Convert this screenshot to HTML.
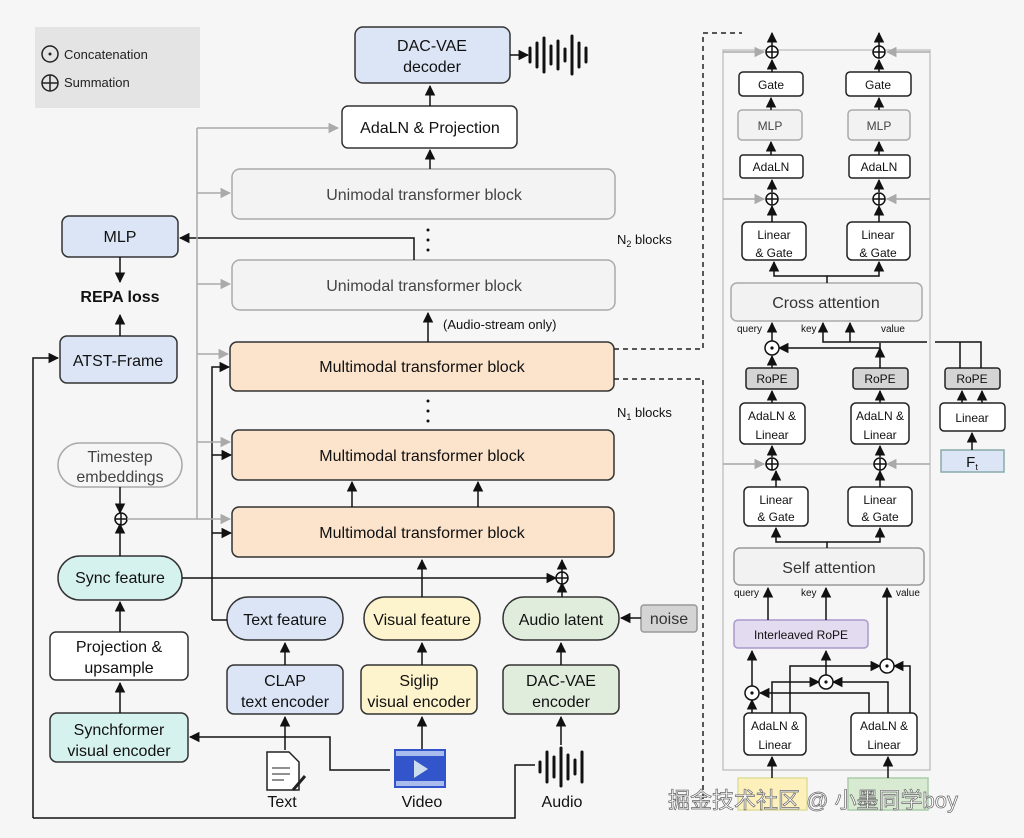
<!DOCTYPE html>
<html><head><meta charset="utf-8"><style>
html,body{margin:0;padding:0;background:#f6f6f6}
svg{display:block;font-family:"Liberation Sans","Noto Sans CJK SC",sans-serif}
</style></head><body>
<svg width="1024" height="838" viewBox="0 0 1024 838" xmlns="http://www.w3.org/2000/svg">
<defs>
<marker id="a" viewBox="0 0 10 10" refX="9" refY="5" markerWidth="7" markerHeight="7" orient="auto"><path d="M0,0L10,5L0,10z" fill="#111"/></marker>
<marker id="g" viewBox="0 0 10 10" refX="9" refY="5" markerWidth="7" markerHeight="7" orient="auto"><path d="M0,0L10,5L0,10z" fill="#aaa"/></marker>
</defs>
<rect width="1024" height="838" fill="#f6f6f6"/>
<!-- legend -->
<rect x="35" y="27" width="165" height="81" fill="#e4e4e4"/>
<circle cx="50" cy="54" r="8" fill="none" stroke="#222" stroke-width="1.5"/><circle cx="50" cy="54" r="1.5" fill="#222"/>
<text x="64" y="59" font-size="13" fill="#222">Concatenation</text>
<circle cx="50" cy="83" r="8" fill="none" stroke="#222" stroke-width="1.5"/><path d="M42,83h16M50,75v16" stroke="#222" stroke-width="1.5"/>
<text x="64" y="87" font-size="13" fill="#222">Summation</text>

<g stroke="#333" stroke-width="1.5" font-size="16" text-anchor="middle">
<rect x="355" y="27" width="155" height="56" rx="8" fill="#dbe5f6"/>
<rect x="342" y="106" width="175" height="42" rx="6" fill="#fff"/>
<rect x="232" y="169" width="383" height="50" rx="8" fill="#f3f3f3" stroke="#aaa"/>
<rect x="232" y="260" width="383" height="50" rx="8" fill="#f3f3f3" stroke="#aaa"/>
<rect x="62" y="216" width="116" height="41" rx="7" fill="#dbe5f6"/>
<rect x="60" y="336" width="117" height="47" rx="7" fill="#dbe5f6"/>
<rect x="230" y="342" width="384" height="49" rx="7" fill="#fbe3cc"/>
<rect x="232" y="430" width="382" height="50" rx="7" fill="#fbe3cc"/>
<rect x="232" y="507" width="382" height="50" rx="7" fill="#fbe3cc"/>
<rect x="58" y="443" width="124" height="44" rx="22" fill="#f6f6f6" stroke="#aaa"/>
<rect x="58" y="556" width="124" height="44" rx="22" fill="#d6f2ee"/>
<rect x="50" y="632" width="138" height="48" rx="6" fill="#fff"/>
<rect x="50" y="713" width="138" height="49" rx="7" fill="#d6f2ee"/>
<rect x="227" y="597" width="116" height="43" rx="21" fill="#dbe5f6"/>
<rect x="364" y="597" width="116" height="43" rx="21" fill="#fdf3cc"/>
<rect x="503" y="597" width="116" height="43" rx="21" fill="#e0ecdc"/>
<rect x="641" y="605" width="56" height="27" rx="3" fill="#d4d4d4" stroke="#999"/>
<rect x="227" y="665" width="116" height="49" rx="7" fill="#dbe5f6"/>
<rect x="361" y="665" width="116" height="49" rx="7" fill="#fdf3cc"/>
<rect x="503" y="665" width="116" height="49" rx="7" fill="#e0ecdc"/>
</g>
<g font-size="16" text-anchor="middle" fill="#111">
<text x="432" y="51">DAC-VAE</text><text x="432" y="72">decoder</text>
<text x="430" y="133">AdaLN &amp; Projection</text>
<text x="424" y="200" fill="#444">Unimodal transformer block</text>
<text x="424" y="291" fill="#444">Unimodal transformer block</text>
<text x="120" y="242">MLP</text>
<text x="120" y="302" font-weight="bold">REPA loss</text>
<text x="118" y="366">ATST-Frame</text>
<text x="422" y="372">Multimodal transformer block</text>
<text x="422" y="461">Multimodal transformer block</text>
<text x="422" y="538">Multimodal transformer block</text>
<text x="120" y="462" fill="#444">Timestep</text><text x="120" y="482" fill="#444">embeddings</text>
<text x="120" y="583">Sync feature</text>
<text x="119" y="652">Projection &amp;</text><text x="119" y="673">upsample</text>
<text x="119" y="735">Synchformer</text><text x="119" y="756">visual encoder</text>
<text x="285" y="625">Text feature</text>
<text x="422" y="625">Visual feature</text>
<text x="561" y="625">Audio latent</text>
<text x="669" y="624" fill="#333">noise</text>
<text x="285" y="686">CLAP</text><text x="285" y="707">text encoder</text>
<text x="419" y="686">Siglip</text><text x="419" y="707">visual encoder</text>
<text x="561" y="686">DAC-VAE</text><text x="561" y="707">encoder</text>
<text x="282" y="807">Text</text><text x="422" y="807">Video</text><text x="562" y="807">Audio</text>
</g>
<g font-size="13" fill="#111">
<text x="443" y="329">(Audio-stream only)</text>
<text x="617" y="244">N<tspan font-size="9" dy="3">2</tspan><tspan dy="-3"> blocks</tspan></text>
<text x="617" y="417">N<tspan font-size="9" dy="3">1</tspan><tspan dy="-3"> blocks</tspan></text>
</g>
<g fill="#111"><circle cx="428" cy="230" r="1.5"/><circle cx="428" cy="240" r="1.5"/><circle cx="428" cy="250" r="1.5"/>
<circle cx="428" cy="401" r="1.5"/><circle cx="428" cy="411" r="1.5"/><circle cx="428" cy="421" r="1.5"/></g>
<!-- waveform -->
<g stroke="#111" stroke-width="3" stroke-linecap="round">
<path d="M530,48v14M537,43v24M544,38v34M551,46v18M558,41v28M565,49v12M572,36v38M579,43v24M586,48v14"/>
<path d="M540,762v10M547,752v30M554,757v20M561,748v38M568,755v24M575,760v14M582,752v30"/>
</g>
<path d="M510,55H528" stroke="#111" stroke-width="1.5" marker-end="url(#a)"/>
<!-- black connectors -->
<g stroke="#111" stroke-width="1.5" fill="none" marker-end="url(#a)">
<path d="M430,106V86"/><path d="M430,169V150"/>
<path d="M414,260V238H180"/>
<path d="M120,257V282"/><path d="M120,336V315"/>
<path d="M428,342V313"/>
<path d="M33,818V358H58"/>
<path d="M212,620V367H229"/><path d="M212,455H231"/><path d="M212,533H231"/>
<path d="M352,507V482"/><path d="M478,507V482"/>
<path d="M422,597V560"/><path d="M562,597V583"/><path d="M562,573V560"/>
<path d="M182,578H556"/>
<path d="M120,556V524"/><path d="M120,487V513"/>
<path d="M120,632V602"/><path d="M120,713V683"/>
<path d="M285,665V643"/><path d="M422,665V643"/><path d="M561,665V643"/>
<path d="M641,618H621"/>
<path d="M285,750V717"/><path d="M422,749V717"/><path d="M561,745V717"/>
<path d="M390,770H330V737H190"/>
</g>
<path d="M212,620H227" stroke="#111" stroke-width="1.5"/>
<path d="M33,818H515V765H535" stroke="#111" stroke-width="1.5" fill="none"/>
<g stroke="#111" stroke-width="1.5" fill="none"><circle cx="121" cy="519" r="6"/><path d="M115,519h12M121,513v12"/>
<circle cx="562" cy="578" r="6"/><path d="M556,578h12M562,572v12"/></g>
<!-- gray connectors -->
<g stroke="#aaa" stroke-width="1.5" fill="none">
<path d="M127,519H197V128"/>
<path d="M197,128H338" marker-end="url(#g)"/><path d="M197,193H230" marker-end="url(#g)"/><path d="M197,284H230" marker-end="url(#g)"/>
<path d="M197,354H228" marker-end="url(#g)"/><path d="M197,442H230" marker-end="url(#g)"/><path d="M197,519H230" marker-end="url(#g)"/>
</g>
<!-- icons -->
<path d="M267,752h22l10,10v28h-32z" fill="#fff" stroke="#222" stroke-width="1.5"/>
<path d="M272,768h18M272,774h18M272,780h12" stroke="#222"/>
<path d="M293,790l12,-14" stroke="#222" stroke-width="3"/>
<rect x="394" y="749" width="52" height="39" fill="#3355cc"/>
<rect x="396" y="751" width="48" height="5" fill="#aabbee"/><rect x="396" y="781" width="48" height="5" fill="#aabbee"/>
<path d="M414,760l14,9l-14,9z" fill="#cde"/>
<!-- dashed -->
<g stroke="#222" stroke-width="1.5" fill="none" stroke-dasharray="5,4">
<path d="M614,349H703V33H742"/><path d="M614,379H703V800"/>
</g>
<!-- right panel -->
<rect x="723" y="50" width="207" height="720" fill="none" stroke="#bbb" stroke-width="1.2"/>
<g stroke="#bbb" stroke-width="1.2" fill="none"><path d="M723,199H930M723,464H930"/></g>
<g stroke="#222" stroke-width="1.5" font-size="12" text-anchor="middle">
<rect x="739" y="72" width="64" height="24" rx="4" fill="#fff"/><rect x="846" y="72" width="65" height="24" rx="4" fill="#fff"/>
<rect x="738" y="110" width="64" height="30" rx="4" fill="#f2f2f2" stroke="#aaa"/><rect x="848" y="110" width="62" height="30" rx="4" fill="#f2f2f2" stroke="#aaa"/>
<rect x="740" y="155" width="63" height="23" rx="3" fill="#fff"/><rect x="849" y="155" width="61" height="23" rx="3" fill="#fff"/>
<rect x="742" y="222" width="64" height="38" rx="5" fill="#fff"/><rect x="847" y="222" width="63" height="38" rx="5" fill="#fff"/>
<rect x="731" y="283" width="191" height="38" rx="6" fill="#f2f2f2" stroke="#aaa"/>
<rect x="746" y="368" width="52" height="21" rx="3" fill="#d4d4d4"/><rect x="853" y="368" width="55" height="21" rx="3" fill="#d4d4d4"/><rect x="945" y="368" width="55" height="21" rx="3" fill="#d4d4d4"/>
<rect x="740" y="403" width="65" height="41" rx="5" fill="#fff"/><rect x="851" y="403" width="58" height="41" rx="5" fill="#fff"/>
<rect x="940" y="403" width="65" height="28" rx="4" fill="#fff"/>
<rect x="941" y="450" width="63" height="22" fill="#dbe5f6" stroke="#8aa"/>
<rect x="744" y="487" width="64" height="39" rx="5" fill="#fff"/><rect x="848" y="487" width="64" height="39" rx="5" fill="#fff"/>
<rect x="734" y="548" width="190" height="37" rx="6" fill="#f2f2f2" stroke="#999"/>
<rect x="734" y="620" width="134" height="28" rx="4" fill="#e3dbef" stroke="#a9c"/>
<rect x="744" y="713" width="62" height="42" rx="5" fill="#fff"/><rect x="851" y="713" width="66" height="42" rx="5" fill="#fff"/>
<rect x="738" y="778" width="69" height="32" fill="#fdf0bb" stroke="#dd9"/><rect x="848" y="778" width="80" height="32" fill="#d8ebd2" stroke="#aca"/>
</g>
<g font-size="12" text-anchor="middle" fill="#111">
<text x="771" y="89">Gate</text><text x="878" y="89">Gate</text>
<text x="770" y="130" fill="#444">MLP</text><text x="879" y="130" fill="#444">MLP</text>
<text x="771" y="171">AdaLN</text><text x="879" y="171">AdaLN</text>
<text x="774" y="239">Linear</text><text x="774" y="257">&amp; Gate</text><text x="878" y="239">Linear</text><text x="878" y="257">&amp; Gate</text>
<text x="826" y="308" font-size="16" fill="#333">Cross attention</text>
<text x="772" y="383">RoPE</text><text x="880" y="383">RoPE</text><text x="972" y="383">RoPE</text>
<text x="772" y="420">AdaLN &amp;</text><text x="772" y="439">Linear</text><text x="880" y="420">AdaLN &amp;</text><text x="880" y="439">Linear</text>
<text x="972" y="422">Linear</text>
<text x="972" y="467" font-size="15">F<tspan font-size="9" dy="3">t</tspan></text>
<text x="776" y="504">Linear</text><text x="776" y="521">&amp; Gate</text><text x="880" y="504">Linear</text><text x="880" y="521">&amp; Gate</text>
<text x="829" y="573" font-size="16" fill="#333">Self attention</text>
<text x="801" y="639">Interleaved RoPE</text>
<text x="775" y="730">AdaLN &amp;</text><text x="775" y="749">Linear</text><text x="884" y="730">AdaLN &amp;</text><text x="884" y="749">Linear</text>
</g>
<g font-size="10" fill="#111">
<text x="737" y="332">query</text><text x="801" y="332">key</text><text x="881" y="332">value</text>
<text x="734" y="596">query</text><text x="801" y="596">key</text><text x="896" y="596">value</text>
</g>
<g stroke="#111" stroke-width="1.5" fill="none" marker-end="url(#a)">
<path d="M772,72V60"/><path d="M772,46V33"/><path d="M879,72V60"/><path d="M879,46V33"/>
<path d="M771,110V98"/><path d="M879,110V98"/><path d="M771,155V142"/><path d="M879,155V142"/>
<path d="M772,192V180"/><path d="M879,192V180"/><path d="M772,222V206"/><path d="M879,222V206"/>
<path d="M827,283V276H774V262"/><path d="M827,276H879V262"/>
<path d="M772,341V323"/><path d="M880,343V348H779"/>
<path d="M772,368V356"/><path d="M880,368V348"/>
<path d="M772,403V391"/><path d="M880,403V391"/>
<path d="M927,342H823V323"/><path d="M850,342V323"/>
<path d="M962,403V391"/><path d="M982,403V391"/><path d="M972,450V433"/>
<path d="M772,457V446"/><path d="M880,457V446"/>
<path d="M776,487V471"/><path d="M880,487V471"/>
<path d="M827,548V542H776V528"/><path d="M827,542H880V528"/>
<path d="M768,620V588"/><path d="M826,620V588"/><path d="M887,660V588"/>
<path d="M752,687V651"/><path d="M826,676V651"/>
<path d="M752,713V700"/>
<path d="M772,713V682H819"/><path d="M790,713V666H880"/>
<path d="M869,713V693H760"/><path d="M888,713V682H833"/><path d="M910,713V666H894"/>
<path d="M772,778V757"/><path d="M888,778V757"/>
</g>
<g stroke="#111" stroke-width="1.5" fill="none"><path d="M935,342H981V368M960,342V368"/></g>
<g stroke="#aaa" stroke-width="1.5" fill="none">
<path d="M723,52H764" marker-end="url(#g)"/><path d="M930,52H887" marker-end="url(#g)"/>
<path d="M723,199H764" marker-end="url(#g)"/><path d="M930,199H887" marker-end="url(#g)"/>
<path d="M723,464H764" marker-end="url(#g)"/><path d="M930,464H887" marker-end="url(#g)"/>
</g>
<g stroke="#111" stroke-width="1.5" fill="#fff">
<circle cx="772" cy="52" r="6"/><circle cx="879" cy="52" r="6"/><circle cx="772" cy="199" r="6"/><circle cx="879" cy="199" r="6"/>
<circle cx="772" cy="464" r="6"/><circle cx="880" cy="464" r="6"/>
<circle cx="772" cy="348" r="7"/><circle cx="752" cy="693" r="7"/><circle cx="826" cy="682" r="7"/><circle cx="887" cy="666" r="7"/>
</g>
<g stroke="#111" stroke-width="1.5"><path d="M766,52h12M772,46v12M873,52h12M879,46v12M766,199h12M772,193v12M873,199h12M879,193v12M766,464h12M772,458v12M874,464h12M880,458v12"/></g>
<g fill="#111"><circle cx="772" cy="348" r="1.6"/><circle cx="752" cy="693" r="1.6"/><circle cx="826" cy="682" r="1.6"/><circle cx="887" cy="666" r="1.6"/></g>
<!-- watermark -->
<text x="668" y="808" font-size="22" fill="#fff" stroke="#666" stroke-width="0.7">掘金技术社区 @ 小墨同学boy</text>
</svg>
</body></html>
